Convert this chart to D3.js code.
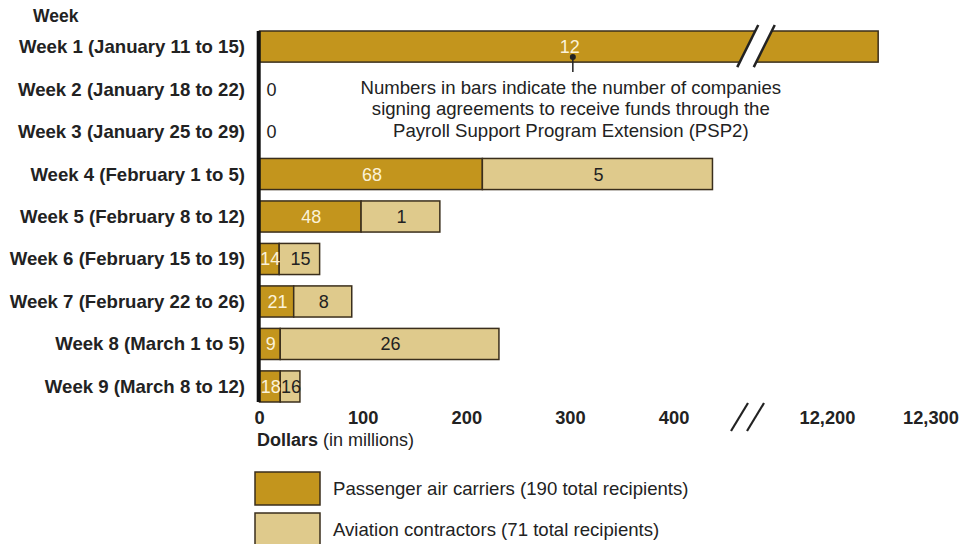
<!DOCTYPE html>
<html>
<head>
<meta charset="utf-8">
<script src="https://cdn.jsdelivr.net/npm/d3@7"></script>
<style>
  html, body { margin: 0; padding: 0; background: #fff; }
  svg { display: block; font-family: "Liberation Sans", Arial, sans-serif; }
</style>
</head>
<body>
<svg id="chart" width="980" height="544"></svg>
<script>
// ---- Data ----
const weeks = [
  "Week 1 (January 11 to 15)",
  "Week 2 (January 18 to 22)",
  "Week 3 (January 25 to 29)",
  "Week 4 (February 1 to 5)",
  "Week 5 (February 8 to 12)",
  "Week 6 (February 15 to 19)",
  "Week 7 (February 22 to 26)",
  "Week 8 (March 1 to 5)",
  "Week 9 (March 8 to 12)"
];
// dollars in millions
const passengerDollars  = [12249, 0, 0, 215, 98, 19, 33, 20, 20];
const contractorDollars = [0,     0, 0, 222, 76, 39, 56, 211, 19];
// number of companies signing agreements
const passengerCompanies  = [12, 0, 0, 68, 48, 14, 21, 9, 18];
const contractorCompanies = [null, null, null, 5, 1, 15, 8, 26, 16];
const tickValues = [0, 100, 200, 300, 400, 12200, 12300];
const seriesNames = ["Passenger air carriers (190 total recipients)",
                     "Aviation contractors (71 total recipients)"];
const seriesKeys = ["passenger", "contractor"];
const colors = ["#C3951D", "#DFCA8C"];
const annotationLines = [
  "Numbers in bars indicate the number of companies",
  "signing agreements to receive funds through the",
  "Payroll Support Program Extension (PSP2)"
];
// axis break (values on each side of the break)
const breakLow = 479, breakHigh = 12131;

// ---- Build table ----
const table = weeks.map((w, i) => ({
  week: w,
  passenger: passengerDollars[i],
  contractor: contractorDollars[i],
  passengerN: passengerCompanies[i],
  contractorN: contractorCompanies[i]
}));

const svg = d3.select("#chart");
const stroke = "#3a2e1c";
const FS = 18.6;

const x = d3.scaleLinear()
  .domain([0, breakLow, breakHigh, 12400])
  .range([259.5, 756, 756, 1034.5]);
const breakX = x(breakLow);

const y = d3.scaleBand()
  .domain(weeks)
  .range([31, 402])
  .paddingInner(0.268)
  .paddingOuter(0);

const stacked = d3.stack().keys(seriesKeys)(table);

// bars
const layers = svg.append("g").selectAll("g")
  .data(stacked).join("g")
  .attr("fill", (d, i) => colors[i]);

layers.selectAll("rect")
  .data(d => d.filter(s => s[1] - s[0] > 0))
  .join("rect")
  .attr("x", d => x(d[0]))
  .attr("y", d => y(d.data.week))
  .attr("width", d => x(d[1]) - x(d[0]))
  .attr("height", y.bandwidth())
  .attr("stroke", stroke)
  .attr("stroke-width", 1.5);

// bar break on week 1
const b1 = y(weeks[0]), bh = y.bandwidth();
const slTop = b1 - 6, slBot = b1 + bh + 5;
const dxs = 10.5, off = 8.25;
svg.append("polygon")
  .attr("points", [
    [breakX - off - dxs, slBot], [breakX - off + dxs, slTop],
    [breakX + off + dxs, slTop], [breakX + off - dxs, slBot]
  ].map(p => p.join(",")).join(" "))
  .attr("fill", "#fff");
[-off, off].forEach(o => {
  svg.append("line")
    .attr("x1", breakX + o - dxs).attr("y1", slBot)
    .attr("x2", breakX + o + dxs).attr("y2", slTop)
    .attr("stroke", "#222").attr("stroke-width", 2.5);
});

// labels in bars
const labG = svg.append("g").attr("font-size", 18).attr("text-anchor", "middle");
table.forEach((d, i) => {
  const cy = y(d.week) + bh / 2 + 6.5;
  const total = d.passenger + d.contractor;
  if (total === 0) {
    labG.append("text").attr("x", x(0) + 12).attr("y", cy)
      .attr("fill", "#222").text(d.passengerN);
    return;
  }
  if (d.passenger > 0) {
    labG.append("text")
      .attr("x", (x(0) + x(d.passenger)) / 2 + 1).attr("y", cy)
      .attr("fill", "#FBF2D8").text(d.passengerN);
  }
  if (d.contractor > 0 && d.contractorN != null) {
    labG.append("text")
      .attr("x", (x(d.passenger) + x(total)) / 2 + 1).attr("y", cy)
      .attr("fill", "#222").text(d.contractorN);
  }
});

// annotation pointer
const annX = (x(0) + x(table[0].passenger)) / 2 + 4;
svg.append("line")
  .attr("x1", annX).attr("x2", annX)
  .attr("y1", b1 + bh - 5).attr("y2", b1 + bh + 10)
  .attr("stroke", "#222").attr("stroke-width", 1.5);
svg.append("circle")
  .attr("cx", annX).attr("cy", b1 + bh - 5).attr("r", 3)
  .attr("fill", "#222");
svg.append("g").attr("font-size", FS).attr("text-anchor", "middle").attr("fill", "#222")
  .selectAll("text").data(annotationLines).join("text")
  .attr("x", annX - 2)
  .attr("y", (d, i) => 93.5 + i * 21.5)
  .text(d => d);

// y axis labels
svg.append("g").attr("font-size", FS).attr("font-weight", "bold")
  .attr("text-anchor", "end").attr("fill", "#222")
  .selectAll("text").data(weeks).join("text")
  .attr("x", 245)
  .attr("y", d => y(d) + bh / 2 + 6.5)
  .text(d => d);

svg.append("text").attr("x", 33).attr("y", 21.5)
  .attr("font-size", 17.5).attr("font-weight", "bold").attr("fill", "#222")
  .text("Week");

// vertical axis line
svg.append("line")
  .attr("x1", 258.7).attr("x2", 258.7)
  .attr("y1", y.range()[0]).attr("y2", y.range()[1])
  .attr("stroke", "#111").attr("stroke-width", 4);

// x tick labels
svg.append("g").attr("font-size", 18.3).attr("font-weight", "bold")
  .attr("text-anchor", "middle").attr("fill", "#222")
  .selectAll("text").data(tickValues).join("text")
  .attr("x", d => x(d))
  .attr("y", 423.5)
  .text(d => d3.format(",")(d));

// axis break marks
const axBx = breakX - 8.5;
[-8, 8].forEach(o => {
  svg.append("line")
    .attr("x1", axBx + o - 8.5).attr("y1", 431)
    .attr("x2", axBx + o + 8.5).attr("y2", 403)
    .attr("stroke", "#222").attr("stroke-width", 2.2);
});

// x axis title
const title = svg.append("text").attr("x", 257).attr("y", 446)
  .attr("font-size", 18).attr("fill", "#222");
title.append("tspan").attr("font-weight", "bold").text("Dollars");
title.append("tspan").text(" (in millions)");

// legend
const leg = svg.append("g").selectAll("g").data(seriesNames).join("g")
  .attr("transform", (d, i) => `translate(255,${472 + i * 41})`);
leg.append("rect").attr("width", 65).attr("height", 33)
  .attr("fill", (d, i) => colors[i]).attr("stroke", stroke).attr("stroke-width", 1.5);
leg.append("text").attr("x", 78).attr("y", 23).attr("font-size", FS)
  .attr("fill", "#222").text(d => d);
</script>
</body>
</html>
